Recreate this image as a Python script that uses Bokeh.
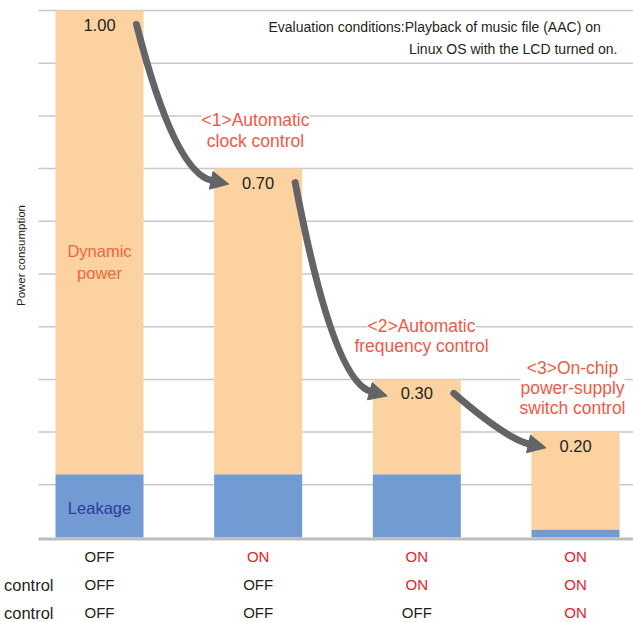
import math
from bokeh.plotting import figure
from bokeh.models import ColumnDataSource, Label, Arrow, NormalHead, Range1d
from bokeh.embed import file_html
from bokeh.resources import INLINE
from bokeh.core.properties import value

# ---------------- data ----------------
stages = ["Baseline", "<1>", "<2>", "<3>"]
total = [1.00, 0.70, 0.30, 0.20]
leakage = [0.12, 0.12, 0.12, 0.015]
value_labels = ["1.00", "0.70", "0.30", "0.20"]
clock_ctrl = ["OFF", "ON", "ON", "ON"]
freq_ctrl = ["OFF", "OFF", "ON", "ON"]
switch_ctrl = ["OFF", "OFF", "OFF", "ON"]
row_labels = ["", "<2>Automatic frequency control",
              "<3>On-chip power-supply switch control"]
step_notes = [["<1>Automatic", "clock control"],
              ["<2>Automatic", "frequency control"],
              ["<3>On-chip", "power-supply", "switch control"]]
grid_ticks = [0.1, 0.2, 0.3, 0.4, 0.5, 0.6, 0.7, 0.8, 0.9, 1.0]
eval_lines = ["Evaluation conditions:Playback of music file (AAC) on",
              "Linux OS with the LCD turned on."]

# ---------------- styles / geometry ----------------
FONT = "Liberation Sans"
ORANGE = "#fcd2a0"
BLUE = "#729bd3"
RED_NOTE = "#ee5a48"
RED_ON = "#e8212c"
DARK = "#231f20"
GRAY = "#636467"
W, H = 633, 622
PX_X = 158.67   # px per x unit
PX_Y = 527.0    # px per y unit
X0 = 99         # canvas x of first bar centre
Y0 = 537        # canvas y of value 0


def dx(sx):
    return (sx - X0) / PX_X


def dy(sy):
    return (Y0 - sy) / PX_Y


p = figure(width=W, height=H, x_range=Range1d(dx(0), dx(W)),
           y_range=Range1d(dy(H), dy(0)),
           x_axis_type=None, y_axis_type=None, output_backend="svg",
           toolbar_location=None, min_border=0)
p.outline_line_color = None
p.background_fill_color = "white"
p.xgrid.visible = False
p.ygrid.visible = False

# grid lines (behind bars)
p.segment(x0=[dx(38)] * len(grid_ticks), x1=[dx(W)] * len(grid_ticks),
          y0=grid_ticks, y1=grid_ticks, line_color="#c8c8cc", line_width=1.5)

xs = list(range(len(stages)))
src = ColumnDataSource(dict(x=xs, total=total, leak=leakage,
                            lab=value_labels,
                            ly=[t - 14 / PX_Y for t in total]))

bw = 88 / PX_X
p.vbar(x="x", bottom=0, top="leak", width=bw, source=src,
       fill_color=BLUE, line_color=None)
p.vbar(x="x", bottom="leak", top="total", width=bw, source=src,
       fill_color=ORANGE, line_color=None)

# baseline
p.segment(x0=[dx(38)], x1=[dx(W)], y0=[-1.5 / PX_Y], y1=[-1.5 / PX_Y],
          line_color="#bdbdbd", line_width=3)

p.text(x="x", y="ly", text="lab", source=src, text_align="center",
       text_baseline="middle", text_font=value(FONT),
       text_font_size="16.5px", text_color=DARK)

# arrows
bends = [(0.5, 0.05), (0.5, 0.05), (0.7, 0.1)]
for i in range(len(total) - 1):
    x0 = xs[i] + 37 / PX_X
    y0 = total[i] - 14 / PX_Y
    x2 = xs[i + 1] - 0.29
    y2 = total[i + 1] - 12 / PX_Y
    a, b = bends[i]
    cx = x0 + a * (x2 - x0)
    cy = y2 + b * (y0 - y2)
    p.quadratic(x0=[x0], y0=[y0], x1=[x2], y1=[y2], cx=[cx], cy=[cy],
                line_color=GRAY, line_width=7, line_cap="round")
    dxp = (x2 - cx) * PX_X
    dyp = (y2 - cy) * PX_Y
    n = math.hypot(dxp, dyp)
    tx = x2 + 17 * dxp / n / PX_X
    ty = y2 + 17 * dyp / n / PX_Y
    p.add_layout(Arrow(end=NormalHead(size=18, fill_color=GRAY,
                                      line_color=GRAY, line_width=1),
                       x_start=x2, y_start=y2, x_end=tx, y_end=ty,
                       line_color=GRAY, line_width=1))

# step notes with white boxes
note_pos = [(255, [119, 140]),
            (421, [325, 345]),
            (572, [367, 387, 407])]
for lines, (nx, nys) in zip(step_notes, note_pos):
    for t, ny in zip(lines, nys):
        p.add_layout(Label(x=dx(nx), y=dy(ny), text=t, text_align="center",
                           text_baseline="middle", text_font=FONT,
                           text_font_size="17.5px", text_color=RED_NOTE,
                           background_fill_color="white"))

# bar inner labels
for t, ny in zip(["Dynamic", "power"], [250, 272]):
    p.add_layout(Label(x=xs[0], y=dy(ny), text=t, text_align="center",
                       text_baseline="middle", text_font=FONT,
                       text_font_size="16.5px", text_color="#f0673f"))
p.add_layout(Label(x=xs[0], y=dy(507), text="Leakage", text_align="center",
                   text_baseline="middle", text_font=FONT,
                   text_font_size="16.5px", text_color="#2d3c9a"))

# evaluation conditions
p.add_layout(Label(x=dx(268), y=dy(26), text=eval_lines[0],
                   text_align="left", text_baseline="middle", text_font=FONT,
                   text_font_size="14px", text_color=DARK))
p.add_layout(Label(x=dx(617), y=dy(48), text=eval_lines[1],
                   text_align="right", text_baseline="middle", text_font=FONT,
                   text_font_size="14px", text_color=DARK))

# y axis title
p.add_layout(Label(x=dx(20), y=dy(255), text="Power consumption",
                   angle=math.pi / 2, text_align="center",
                   text_baseline="middle", text_font=FONT,
                   text_font_size="11.5px", text_color=DARK))

# control table below bars
row_y = [556, 584, 612]
rows = [clock_ctrl, freq_ctrl, switch_ctrl]
for r, (vals, ry) in enumerate(zip(rows, row_y)):
    if row_labels[r]:
        p.add_layout(Label(x=dx(53), y=dy(ry), text=row_labels[r],
                           text_align="right", text_baseline="middle",
                           text_font=FONT, text_font_size="16.5px",
                           text_color=DARK))
    for xi, v in zip(xs, vals):
        p.add_layout(Label(x=xi, y=dy(ry), text=v, text_align="center",
                           text_baseline="middle", text_font=FONT,
                           text_font_size="15px",
                           text_color=RED_ON if v == "ON" else DARK))

open("out.html", "w").write(file_html(p, INLINE))
